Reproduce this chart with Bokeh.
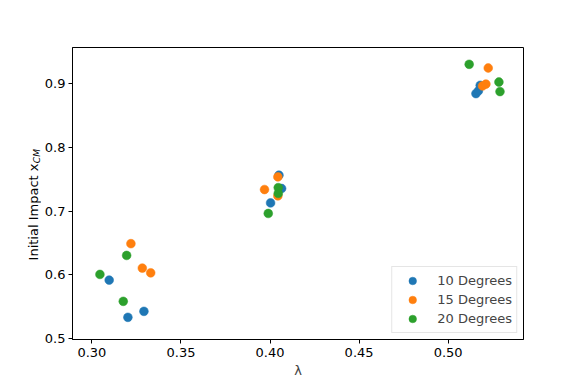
import math
from bokeh.plotting import figure
from bokeh.layouts import row
from bokeh.models import Range1d, FixedTicker, Legend, LegendItem
from bokeh.core.properties import value
from bokeh.embed import file_html
from bokeh.resources import INLINE

# data
x10 = [0.3097, 0.3202, 0.3292, 0.4003, 0.4050, 0.4065, 0.5156, 0.5170, 0.5180]
y10 = [0.5918, 0.5333, 0.5427, 0.7130, 0.7565, 0.7356, 0.8846, 0.8890, 0.8976]
x15 = [0.3219, 0.3283, 0.3330, 0.3969, 0.4044, 0.4044, 0.5193, 0.5212, 0.5225]
y15 = [0.6490, 0.6106, 0.6032, 0.7340, 0.7538, 0.7240, 0.8966, 0.8996, 0.9248]
x20 = [0.3045, 0.3195, 0.3176, 0.3990, 0.4046, 0.4046, 0.5118, 0.5285, 0.5291]
y20 = [0.6007, 0.6305, 0.5584, 0.6964, 0.7370, 0.7278, 0.9306, 0.9028, 0.8878]
series_names = ["10 Degrees", "15 Degrees", "20 Degrees"]
x_ticks = [0.30, 0.35, 0.40, 0.45, 0.50]
y_ticks = [0.5, 0.6, 0.7, 0.8, 0.9]
y_label_main = "Initial Impact x"
y_label_sub = "CM"

colors = ["#1f77b4", "#ff7f0e", "#2ca02c"]
FONT = "DejaVu Sans"

X0, X1 = 0.2891, 0.5423
Y0, Y1 = 0.4985, 0.9570
H = 380
LW = 41

p = figure(frame_width=451, frame_height=292, output_backend="svg",
           toolbar_location=None, x_range=Range1d(X0, X1),
           y_range=Range1d(Y0, Y1),
           min_border_left=72 - LW, min_border_top=47, min_border_right=50,
           min_border_bottom=41)
p.background_fill_color = "white"
p.border_fill_color = "white"
p.xgrid.visible = False
p.ygrid.visible = False
p.outline_line_color = "black"
p.outline_line_alpha = 1.0
p.outline_line_width = 1

for ax in (p.xaxis[0], p.yaxis[0]):
    ax.major_tick_in = 0
    ax.major_tick_out = 4
    ax.minor_tick_out = 0
    ax.minor_tick_in = 0
    ax.major_label_text_font = FONT
    ax.major_label_text_font_size = "13px"
    ax.major_label_text_color = "black"
    ax.axis_line_color = "black"
    ax.major_tick_line_color = "black"
    ax.major_label_standoff = 4
p.yaxis.major_label_standoff = 3

p.xaxis.ticker = FixedTicker(ticks=x_ticks)
p.yaxis.ticker = FixedTicker(ticks=y_ticks)
p.xaxis.major_label_overrides = {t: f"{t:.2f}" for t in x_ticks}
p.yaxis.major_label_overrides = {t: f"{t:.1f}" for t in y_ticks}
p.xaxis.axis_label = "λ"
p.xaxis.axis_label_text_font = FONT
p.xaxis.axis_label_text_font_size = "13px"
p.xaxis.axis_label_text_font_style = "normal"
p.xaxis.axis_label_standoff = 3

items = []
for xs, ys, c, name in zip([x10, x15, x20], [y10, y15, y20], colors, series_names):
    r = p.scatter(xs, ys, size=8.8, fill_color=c, line_color=c, line_width=0.5)
    items.append(LegendItem(label=name, renderers=[r]))

legend = Legend(items=items, location="bottom_right")
legend.label_text_font = FONT
legend.label_text_font_size = "13px"
legend.padding = 4
legend.spacing = 0
legend.glyph_height = 19
legend.label_height = 19
legend.glyph_width = 32
legend.label_standoff = 9
legend.margin = 6
legend.border_line_color = "#cccccc"
legend.border_line_width = 1
legend.background_fill_alpha = 0.8
p.add_layout(legend)

# narrow side panel holding the rotated y-axis label (with subscript);
# its coordinates are canvas pixels measured upward from the bottom
lab = figure(width=LW, height=H, output_backend="svg", toolbar_location=None,
             x_range=Range1d(0, LW), y_range=Range1d(0, H), min_border=0,
             x_axis_location=None, y_axis_location=None)
lab.xgrid.visible = False
lab.ygrid.visible = False
lab.outline_line_color = None
lab.background_fill_color = "white"
lab.border_fill_color = "white"
junction = H - 151.0
lab.text(x=[33.0], y=[junction], text=[y_label_main], angle=math.pi / 2,
         text_align="right", text_baseline="alphabetic",
         text_font=value(FONT), text_font_size="13px", text_color="black")
lab.text(x=[36.0], y=[junction + 0.5], text=[y_label_sub], angle=math.pi / 2,
         text_align="left", text_baseline="alphabetic",
         text_font=value(FONT), text_font_size="9px", text_font_style="italic",
         text_color="black")

layout = row(lab, p, spacing=0)
open("out.html", "w").write(file_html(layout, INLINE))
